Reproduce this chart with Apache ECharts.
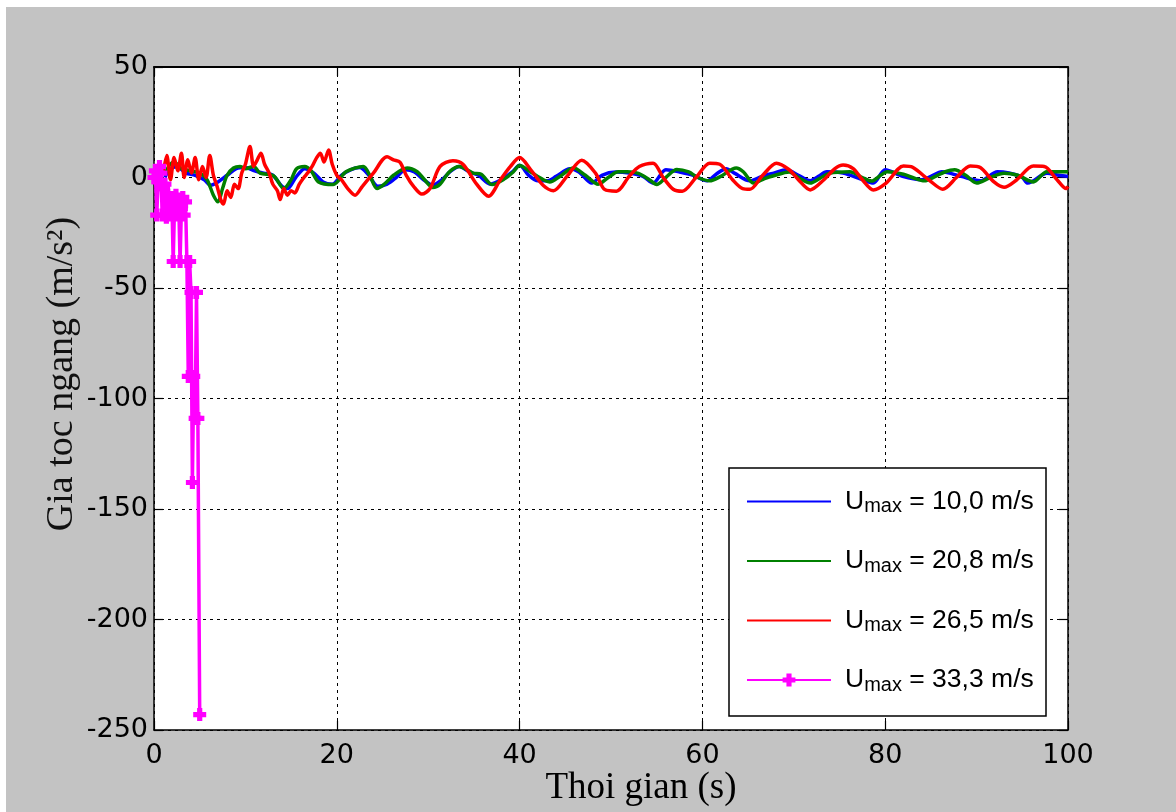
<!DOCTYPE html>
<html><head><meta charset="utf-8">
<script src="https://cdn.jsdelivr.net/npm/echarts@6/dist/echarts.min.js"></script>
<style>
html,body{margin:0;padding:0;background:#fff;overflow:hidden;}
#bg{position:absolute;left:6px;top:7px;width:1170px;height:805px;background:#c3c3c3;}
#chart{position:absolute;left:0;top:0;width:1176px;height:812px;}
</style></head><body><div id="bg"></div><div id="chart"></div>
<script>
// ---- data (time [s], horizontal acceleration [m/s^2]) ----
var xTicks = [0, 20, 40, 60, 80, 100];
var yTicks = [50, 0, -50, -100, -150, -200, -250];
var xAxisName = 'Thoi gian (s)';
var yAxisName = 'Gia toc ngang (m/s\u00B2)';
var seriesNames = ['Umax = 10,0 m/s', 'Umax = 20,8 m/s', 'Umax = 26,5 m/s', 'Umax = 33,3 m/s'];

var blueData = [[1.2,0],[1.6,3],[2.5,5],[3.5,2],[4.5,1],[5.5,-1],[6.2,-3.5],[7,-2],[8,1],[9,4],[10,4.5],[11,3],[12,2],[13,1],[14,-4],[14.6,-5],[15.5,0],[16.5,4],[17.5,2],[18.5,-2],[19.5,-3],[20.5,1],[21.5,3.5],[22.5,4.5],[23.5,1],[24.5,-4],[25.5,-3],[26.5,0],[27.5,3.5],[28.5,2.5],[29.5,-1],[30.5,-3.5],[31.5,-1],[32.5,3],[33.4,5],[34.5,2.5],[35.5,1],[36.8,-3],[38,-1],[39.2,2.5],[40,5.5],[41,1],[42,-1.5],[43,-1.5],[44,0.5],[45.5,4],[46.5,2.5],[47.9,-2.5],[49,1],[50.5,2.5],[52,2],[53.5,0.5],[54.6,-2.5],[56,3.5],[57.5,2.5],[59,1],[60.5,-1.5],[61.5,1.5],[62.6,4],[63.5,2],[65.2,-1.5],[66.5,0.5],[67.8,2],[69.2,3.5],[70.5,1],[71.8,-1.5],[72.7,0.5],[73.6,2.6],[75.4,2],[77.5,-1],[78.7,-2.5],[80,3.5],[81.9,0.5],[84,-1],[85,0.5],[86.2,2.6],[88.3,0.5],[90.4,-1.5],[92.3,2.6],[94.9,0.4],[95.6,-2.5],[97.7,1.9],[99,1],[100,0.5]];

var greenData = [[1.3,2],[1.6,5],[2.2,7],[3,4],[4,3],[5,2],[5.8,-1],[6.5,-8],[7,-11],[7.5,-5],[8,1],[8.7,4.3],[9.4,5],[10,4],[10.9,5],[11.6,2],[13.1,0.7],[14.2,-5],[15,-1],[15.6,4],[16.5,5],[17.2,3],[18,-2],[19.6,-3.2],[21,2.6],[22.9,5],[23.6,1],[24.4,-5],[25.2,-3],[26.2,1],[27.7,4.3],[28.8,2.6],[29.6,-1],[30.5,-4.5],[31.3,-3],[32.3,2.5],[33.4,5],[34.9,2],[35.8,1.5],[37,-3.2],[38.4,-0.5],[39.3,2.5],[40,5.4],[41.2,2.5],[42.6,-1],[43.3,-2],[44.4,0.5],[45.9,4.3],[47.2,1],[48.6,-3],[49.7,0],[50.8,2.6],[51.8,2.6],[53,1.9],[54.2,-1],[55,-3.2],[56,0],[57.2,3.6],[58.5,2.5],[59.5,0],[60.8,-1.5],[62,0.5],[63.7,4.3],[64.5,2.5],[65.6,-2.5],[66.8,-0.5],[67.8,0.8],[69.5,2.5],[70.5,0],[71.8,-2.5],[72.8,-0.5],[73.9,1.9],[76.1,2.6],[77.5,0],[78.5,-1.6],[79.5,1],[80.2,2.6],[82,1.5],[83,0],[84.3,-1.5],[85.5,0.5],[86.5,2.5],[87.6,3.5],[88.8,1],[90,-2.5],[91.5,0],[93,1.9],[94.5,1],[96.2,-2],[97.7,2.6],[100,2.6]];

var redData = [[1,2],[1.4,10],[1.8,-1],[2.2,9],[2.6,3],[3.0,11],[3.3,0],[3.7,8],[4.1,2],[4.5,9],[4.9,-1],[5.3,5],[5.7,0],[6.1,10],[6.5,1],[6.9,-4],[7.3,-10],[7.6,-12],[8.0,-6],[8.4,-9],[8.8,-3],[9.2,-5],[9.6,2],[10.0,6],[10.5,14],[10.9,5],[11.3,8],[11.7,11],[12.1,6],[12.6,2],[13.0,-3],[13.5,-6],[13.8,-10],[14.2,-5],[14.6,-8],[15.0,-6],[15.4,-7],[15.9,-3],[16.4,0],[16.8,2],[17.3,5],[17.8,9],[18.2,11],[18.6,7],[19.1,12.5],[19.5,6],[20,1],[20.5,-1],[21.2,-5],[22,-8],[22.8,-4],[24,2],[25.5,9.4],[26.2,8],[26.9,7],[27.6,1],[28.4,-4],[29.3,-7.5],[30.2,-5],[31.3,5],[32.7,7.6],[33.8,6],[35.3,-3],[36.6,-8.5],[37.9,-1],[39,5],[40,9],[41.2,3.6],[42.6,-3.6],[43.7,-6],[45.2,0.6],[46.8,7.8],[48.3,2],[49.3,-5.4],[50.6,-6.2],[52,0.6],[53.1,5],[54.6,6.5],[55.7,0],[56.8,-5.3],[57.8,-6.2],[59.3,0],[60.8,6.5],[61.9,6],[63.3,-1],[64.4,-5],[65.2,-5.3],[66.6,1],[68.1,6.4],[69.5,3.5],[70.5,-1],[71.8,-5.6],[73.3,-1],[74.5,4],[75.4,5.6],[76.5,4],[77.5,-1],[78.7,-5.6],[80.1,-2.5],[82,5.2],[83,4.6],[84.9,-1.5],[86.3,-5.3],[87.8,0],[89.3,5.2],[90.4,4.5],[91.9,-2],[93,-4.4],[94.4,-1],[96.2,5.2],[97.4,5],[98.8,-1],[99.8,-5],[100,-4]];

var magentaData = [[0,0],[0.15,3],[0.3,-17],[0.45,-2],[0.6,5],[0.75,2],[0.9,-17],[1.05,-5],[1.2,-3],[1.35,-18],[1.5,-8],[1.65,-10],[1.8,-17],[1.95,-9],[2.1,-38],[2.25,-12],[2.4,-8],[2.55,-17],[2.7,-10],[2.85,-38],[3.0,-14],[3.15,-9],[3.3,-17],[3.45,-11],[3.6,-38],[3.75,-90],[3.9,-38],[4.05,-52],[4.2,-138],[4.35,-90],[4.5,-109],[4.65,-52],[4.8,-109],[5.0,-243]];

// ---- chart ----
var chart = echarts.init(document.getElementById('chart'));
var tickFont = {fontFamily: 'DejaVu Sans', fontSize: 27, color: '#000'};
var dash = {color: '#000', width: 1, type: [3, 4]};
var blk = {color: '#000', width: 1.5};
var plusPath = 'path://M3,0h4v3h3v4h-3v3h-4v-3h-3v-4h3z';

function legendFmt(name) {
  var rest = name.replace('Umax', '');
  return '{a|U}{b|max}{c|' + rest + '}';
}
var legendData = seriesNames.map(function (n, i) {
  return i < 3 ? {name: n, itemStyle: {opacity: 0}} : {name: n};
});

chart.setOption({
  backgroundColor: 'transparent',
  animation: false,
  grid: {left: 154, top: 67, width: 914, height: 663, show: true, backgroundColor: '#fff', borderWidth: 0},
  xAxis: [{
    type: 'value', min: 0, max: 100, interval: 20, position: 'bottom',
    axisLine: {show: true, onZero: false, lineStyle: blk},
    axisTick: {show: true, inside: true, length: 9, lineStyle: {color: '#000', width: 1.2}},
    axisLabel: Object.assign({margin: 12}, tickFont),
    splitLine: {show: true, lineStyle: dash}
  }, {
    type: 'value', min: 0, max: 100, interval: 20, position: 'top',
    axisLine: {show: true, onZero: false, lineStyle: {color: '#000', width: 2}},
    axisTick: {show: true, inside: true, length: 9, lineStyle: {color: '#000', width: 1.2}},
    axisLabel: {show: false}, splitLine: {show: false}
  }],
  yAxis: [{
    type: 'value', min: -250, max: 50, interval: 50, position: 'left',
    axisLine: {show: true, onZero: false, lineStyle: blk},
    axisTick: {show: true, inside: true, length: 9, lineStyle: {color: '#000', width: 1.2}},
    axisLabel: Object.assign({margin: 6}, tickFont),
    splitLine: {show: true, lineStyle: dash}
  }, {
    type: 'value', min: -250, max: 50, interval: 50, position: 'right',
    axisLine: {show: true, onZero: false, lineStyle: blk},
    axisTick: {show: true, inside: true, length: 9, lineStyle: {color: '#000', width: 1.2}},
    axisLabel: {show: false}, splitLine: {show: false}
  }],
  legend: {
    orient: 'vertical', left: 746, top: 488, padding: 0, itemGap: 31,
    itemWidth: 84, itemHeight: 16,
    data: legendData,
    formatter: legendFmt,
    textStyle: {
      color: '#000',
      rich: {
        a: {fontFamily: 'Liberation Sans', fontSize: 26.5, color: '#000', padding: [0, 0, 0, 9]},
        b: {fontFamily: 'Liberation Sans', fontSize: 20, color: '#000', padding: [10, 0, 0, 0]},
        c: {fontFamily: 'Liberation Sans', fontSize: 26.5, color: '#000'}
      }
    }
  },
  graphic: [
    {type: 'rect', z: 3, shape: {x: 729, y: 468, width: 317, height: 248},
     style: {fill: '#fff', stroke: '#000', lineWidth: 1.5}},
    {type: 'text', z: 5, x: 641, y: 788,
     style: {text: xAxisName, font: '37px "Liberation Serif"', fill: '#000', textAlign: 'center', textVerticalAlign: 'middle'}},
    {type: 'text', z: 5, x: 62, y: 374, rotation: Math.PI / 2,
     style: {text: yAxisName, font: '38px "Liberation Serif"', fill: '#111', textAlign: 'center', textVerticalAlign: 'middle'}}
  ],
  series: [
    {name: seriesNames[0], type: 'line', data: blueData, symbol: 'none', smooth: 0.3,
     lineStyle: {color: '#0000ff', width: 3.5}, itemStyle: {color: '#0000ff'}},
    {name: seriesNames[1], type: 'line', data: greenData, symbol: 'none', smooth: 0.3,
     lineStyle: {color: '#008000', width: 3.5}, itemStyle: {color: '#008000'}},
    {name: seriesNames[2], type: 'line', data: redData, symbol: 'none', smooth: 0.3,
     lineStyle: {color: '#ff0000', width: 3.5}, itemStyle: {color: '#ff0000'}},
    {name: seriesNames[3], type: 'line', data: magentaData, symbol: plusPath, symbolSize: 13,
     showSymbol: true, clip: false,
     lineStyle: {color: '#ff00ff', width: 3.5}, itemStyle: {color: '#ff00ff'}}
  ]
});
</script></body></html>
